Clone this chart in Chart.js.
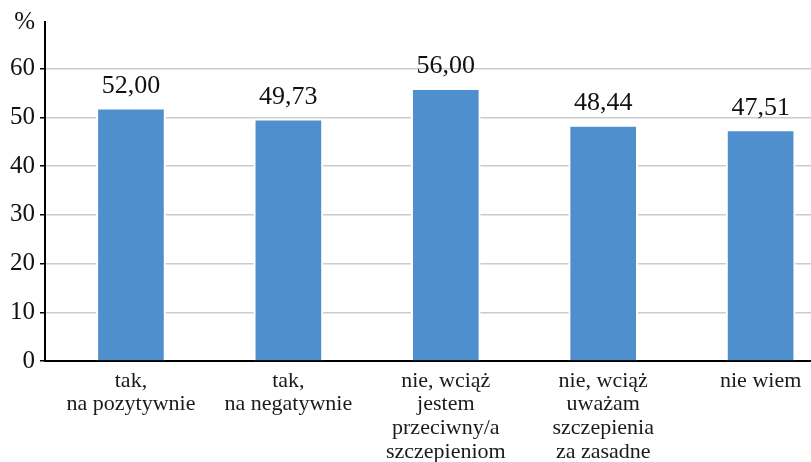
<!DOCTYPE html>
<html>
<head>
<meta charset="utf-8">
<script src="https://cdn.jsdelivr.net/npm/chart.js@4/dist/chart.umd.min.js"></script>
<style>
  html, body { margin: 0; padding: 0; background: #fff; overflow: hidden; }
  #wrap { width: 811px; height: 462px; }
</style>
</head>
<body>
<div id="wrap"><canvas id="c" width="811" height="462"></canvas></div>
<script>
// Answer categories (multi-line labels) and percentage shares
const categories = [
  ["tak,", "na pozytywnie"],
  ["tak,", "na negatywnie"],
  ["nie, wciąż", "jestem", "przeciwny/a", "szczepieniom"],
  ["nie, wciąż", "uważam", "szczepienia", "za zasadne"],
  ["nie wiem"]
];
const shares = [52.00, 49.73, 56.00, 48.44, 47.51];
const yTicks = [0, 10, 20, 30, 40, 50, 60];
const unitLabel = "%";
const Y_TOP = 69.6;

const FONT = "'Liberation Serif', 'Times New Roman', serif";
const fmt = v => v.toFixed(2).replace('.', ',');

// Value labels above each bar
const valueLabels = {
  id: 'valueLabels',
  afterDatasetsDraw(chart) {
    const ctx = chart.ctx;
    const meta = chart.getDatasetMeta(0);
    ctx.save();
    ctx.font = "26px " + FONT;
    ctx.fillStyle = "#111";
    ctx.textAlign = "center";
    ctx.textBaseline = "alphabetic";
    meta.data.forEach((bar, i) => {
      ctx.fillText(fmt(shares[i]), bar.x, bar.y - 15);
    });
    ctx.restore();
  }
};

new Chart(document.getElementById('c'), {
  type: 'bar',
  data: {
    datasets: [{
      data: shares.map((v, i) => ({ x: i, y: v })),
      backgroundColor: '#4F8FCD',
      borderColor: '#ffffff',
      borderWidth: 2,
      borderSkipped: 'bottom',
      barThickness: 69
    }]
  },
  options: {
    responsive: false,
    animation: false,
    events: [],
    layout: { padding: { top: 22, right: 0, left: 0, bottom: 0 } },
    plugins: { legend: { display: false }, tooltip: { enabled: false } },
    scales: {
      x: {
        type: 'linear',
        offset: false,
        min: -0.546,
        max: 4.32,
        afterBuildTicks(scale) {
          scale.ticks = categories.map((_, i) => ({ value: i }));
        },
        afterFit(scale) { scale.height = 101; },
        grid: { display: false, drawTicks: false },
        border: { display: true, color: '#000', width: 2 },
        ticks: {
          autoSkip: false,
          maxRotation: 0,
          padding: 8,
          color: '#1a1a1a',
          font: { family: FONT, size: 22, lineHeight: 1.08 },
          callback: (v) => categories[v]
        }
      },
      y: {
        min: 0,
        max: Y_TOP,
        afterBuildTicks(scale) {
          scale.ticks = yTicks.concat([Y_TOP]).map(v => ({ value: v }));
        },
        afterFit(scale) { scale.width = 45; },
        grid: {
          color: ctx => (ctx.tick && ctx.tick.value === Y_TOP) ? 'rgba(0,0,0,0)' : '#cccccc',
          lineWidth: 1.5,
          drawTicks: true,
          tickLength: 5,
          tickColor: ctx => (ctx.tick && ctx.tick.value === Y_TOP) ? 'rgba(0,0,0,0)' : '#000'
        },
        border: { display: true, color: '#000', width: 2 },
        ticks: {
          padding: 5,
          color: '#111',
          font: { family: FONT, size: 25 },
          callback: v => v === Y_TOP ? unitLabel : String(v)
        }
      }
    }
  },
  plugins: [valueLabels]
});
</script>
</body>
</html>
